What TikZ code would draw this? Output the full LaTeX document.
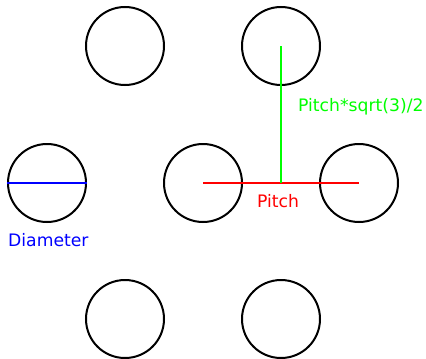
\documentclass[tikz,border=0pt]{standalone}
\usepackage{fontspec}
\setmainfont{DejaVu Sans}
\usetikzlibrary{calc}
\tikzset{
	hole/.style={circle,draw=black,line width=2pt,minimum size=78pt,inner sep=0pt},
	lbl/.style={font=\fontsize{17.2}{20}\selectfont,inner sep=0pt}
}
\begin{document}
\begin{tikzpicture}[x=1pt,y=-1pt]
		\useasboundingbox (0,0) rectangle (426,359);
		\node[hole] (tl) at (125,46) {};
		\node[hole] (tr) at (281,46) {};
		\node[hole] (ml) at (47,183) {};
		\node[hole] (mc) at (203,183) {};
		\node[hole] (mr) at (359,183) {};
		\node[hole] (bl) at (125,319) {};
		\node[hole] (br) at (281,319) {};
		\coordinate (mid) at ($(mc.center)!0.5!(mr.center)$);
		\draw[red,line width=2pt] (mc.center)--(mr.center);
		\draw[green,line width=2pt] (tr.center)--(mid);
		\draw[blue,line width=2pt] (ml.west)--(ml.east);
		\node[lbl,green,anchor=west] (hgt) at (298,106.5) {Pitch*sqrt(3)/2};
		\node[lbl,red] (pit) at (278,201) {Pitch};
		\node[lbl,blue,anchor=west] (dia) at (8,240) {Diameter};
	\end{tikzpicture}
\end{document}
